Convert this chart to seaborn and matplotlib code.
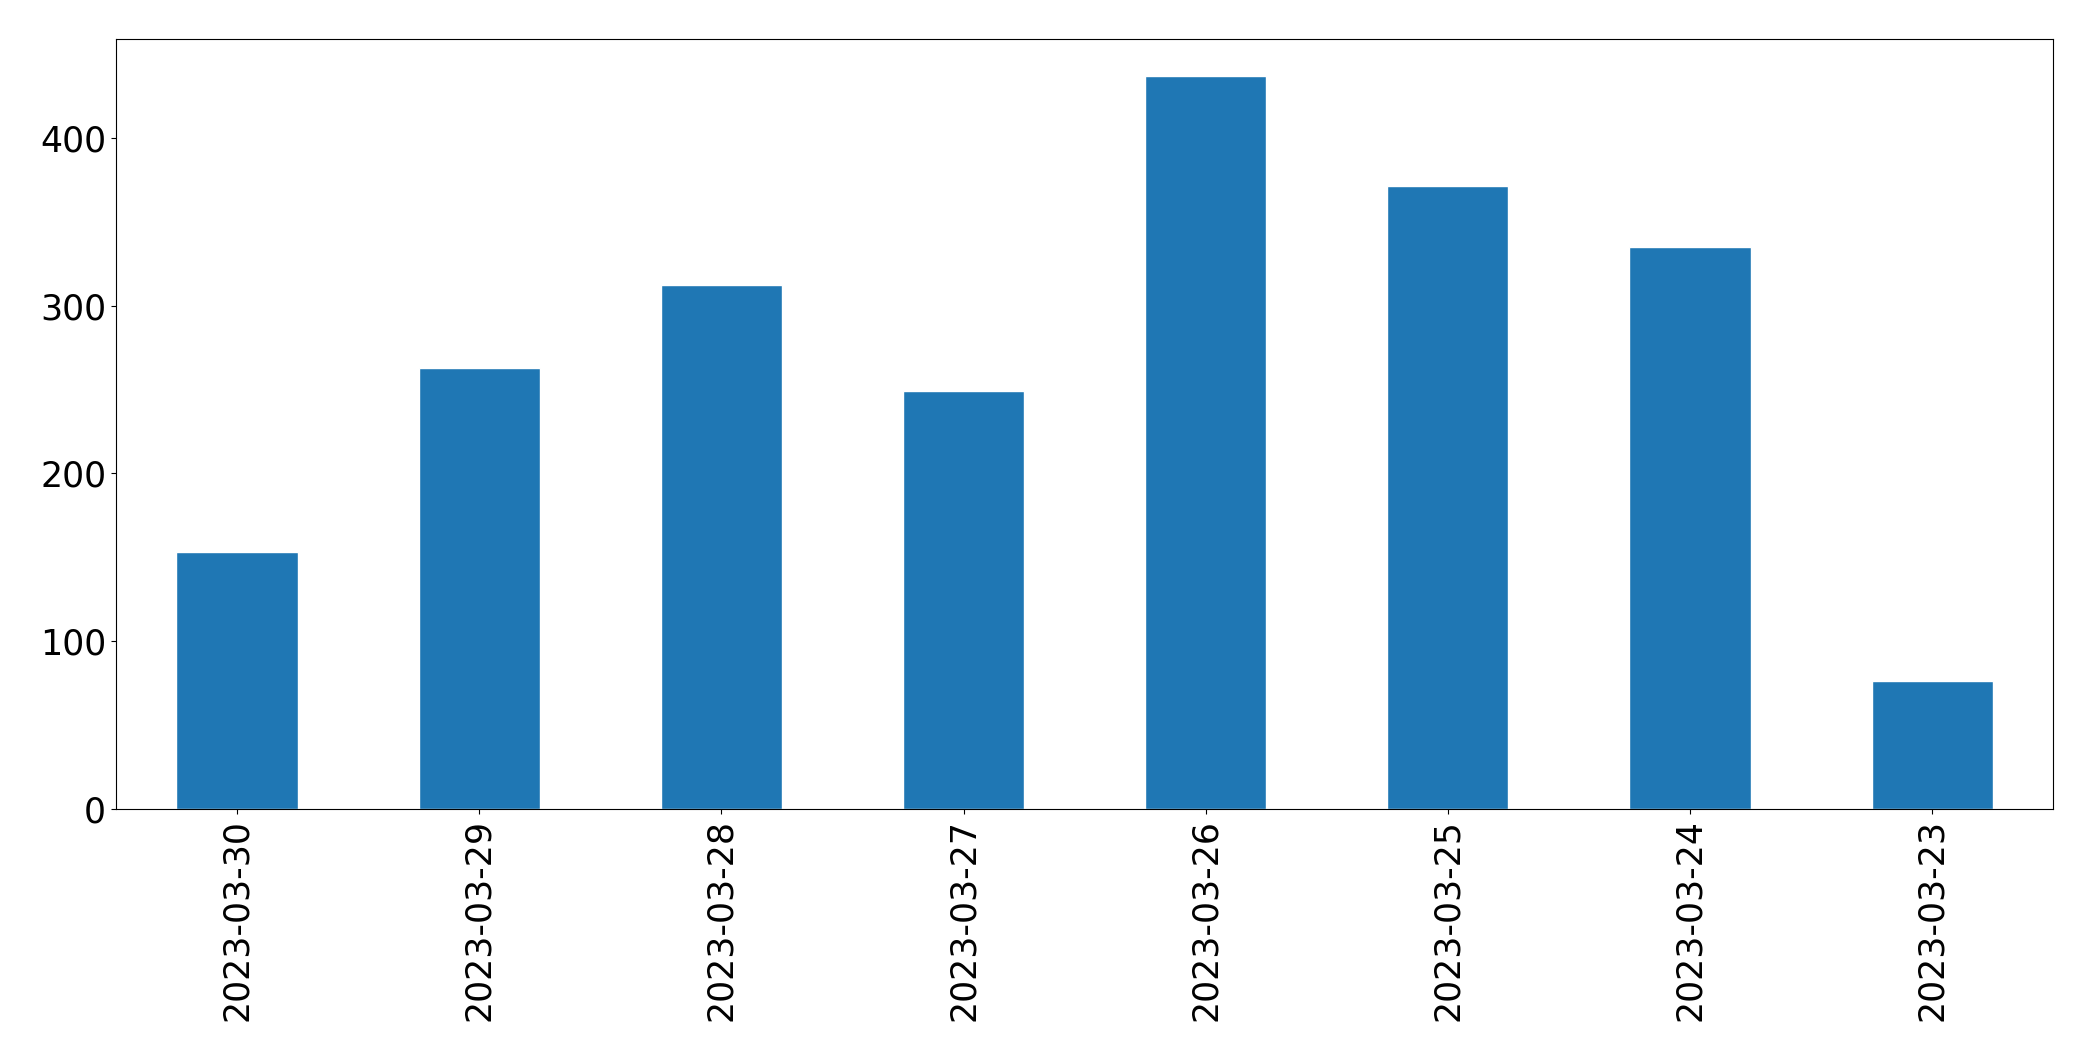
import matplotlib
matplotlib.use("Agg")
import matplotlib.pyplot as plt
import seaborn as sns
import pandas as pd

dates = ["2023-03-30", "2023-03-29", "2023-03-28", "2023-03-27",
         "2023-03-26", "2023-03-25", "2023-03-24", "2023-03-23"]
counts = [153, 263, 312, 249, 437, 371, 335, 76]

sns.set_style("ticks")
plt.rcParams['font.family'] = ['DejaVu Sans']
plt.rcParams['text.color'] = 'black'
plt.rcParams['xtick.color'] = 'black'
plt.rcParams['ytick.color'] = 'black'
plt.rcParams['axes.edgecolor'] = 'black'

df = pd.DataFrame({"date": dates, "count": counts})

fig, ax = plt.subplots(figsize=(20.93, 10.61), dpi=100)
fig.subplots_adjust(left=0.0554, right=0.981, top=0.9632, bottom=0.2375)

sns.barplot(data=df, x="date", y="count", color="#1f77b4", saturation=1,
            width=0.5, ax=ax)
ax.set_xlim(-0.5, 7.5)
ax.set_ylim(0, 437 * 1.05)
ax.set_xlabel("")
ax.set_ylabel("")
ax.tick_params(axis="both", labelsize=25, colors="black")
plt.setp(ax.get_xticklabels(), rotation=90)
for s in ax.spines.values():
    s.set_visible(True)
    s.set_linewidth(0.8)
    s.set_color("black")

fig.savefig("out.png", dpi=100)
